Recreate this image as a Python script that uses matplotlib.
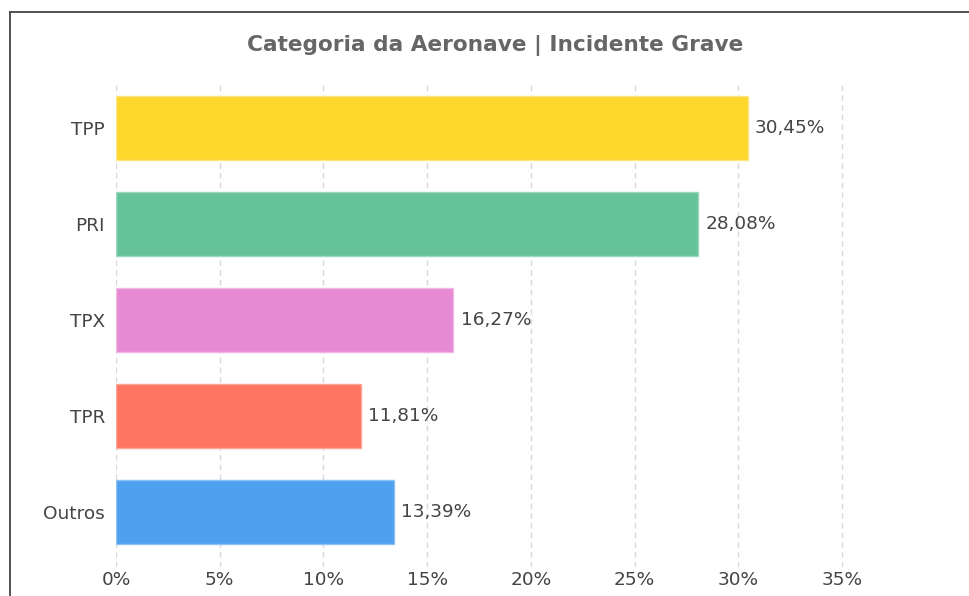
import matplotlib
matplotlib.use("Agg")
import matplotlib.pyplot as plt
from matplotlib.lines import Line2D
from matplotlib.ticker import FuncFormatter

# data
categorias = ["TPP", "PRI", "TPX", "TPR", "Outros"]
percentuais = [30.45, 28.08, 16.27, 11.81, 13.39]
cores = ["#FED72D", "#66C399", "#E68AD3", "#FE7562", "#4FA0EE"]
bordas = ["#FFE680", "#9AD9BB", "#F2B6E6", "#FFA597", "#8CC2F5"]
titulo = "Categoria da Aeronave | Incidente Grave"
x_ticks = [0, 5, 10, 15, 20, 25, 30, 35]

plt.rcParams["font.family"] = ["DejaVu Sans"]

W, H = 970, 596
fig = plt.figure(figsize=(W / 100, H / 100), dpi=100)

# plot area in pixels
px_per_pct = 103.7 / 5
x0_px = 116
xmax = 36
top_px, bot_px = 83, 567
ax = fig.add_axes([x0_px / W, 1 - bot_px / H, xmax * px_per_pct / W, (bot_px - top_px) / H])

ypos = list(range(len(categorias)))
ax.barh(ypos, percentuais, height=0.667, color=cores, edgecolor=bordas, linewidth=1, zorder=2)

for y, v in zip(ypos, percentuais):
    ax.text(v + 0.35, y, f"{v:.2f}%".replace(".", ","), va="center", ha="left",
            fontsize=13.3, color="#444444", zorder=3)

ax.set_xlim(0, xmax)
ax.set_ylim(4 + 55 / 96, -45.5 / 96)
ax.set_yticks(ypos)
ax.set_yticklabels(categorias)
ax.set_xticks(x_ticks)
ax.xaxis.set_major_formatter(FuncFormatter(lambda v, p: f"{v:.0f}%"))
ax.tick_params(axis="both", length=0, labelsize=13.3, labelcolor="#444444")
ax.tick_params(axis="y", pad=8)
ax.tick_params(axis="x", pad=3)
ax.grid(axis="x", color="#d9d9d9", linestyle=(0, (4, 3)), linewidth=1, zorder=0)
ax.set_axisbelow(True)
for s in ax.spines.values():
    s.set_visible(False)

fig.text(495 / W, 1 - 45 / H, titulo, ha="center", va="center",
         fontsize=15.6, fontweight="bold", color="#666666")

# outer frame (left and top edges visible)
fig.add_artist(Line2D([10 / W, 10 / W], [0, 1 - 12 / H], color="#444444", linewidth=1.3))
fig.add_artist(Line2D([10 / W, 1], [1 - 12 / H, 1 - 12 / H], color="#444444", linewidth=1.3))

fig.savefig("out.png", dpi=100)
